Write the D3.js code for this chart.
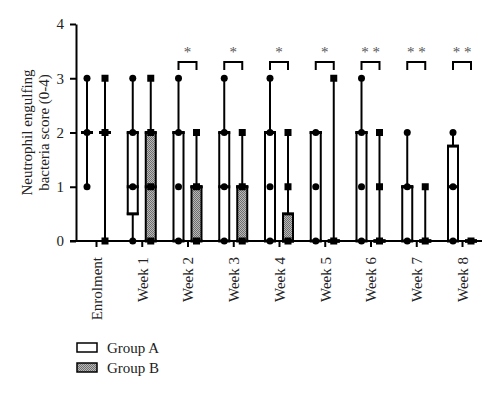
<!DOCTYPE html>
<html>
<head>
<meta charset="utf-8">
<script src="https://cdn.jsdelivr.net/npm/d3@7"></script>
<style>
  body { margin: 0; background: #fff; }
  svg { font-family: "Liberation Serif", "DejaVu Serif", serif; }
</style>
</head>
<body>
<div class="chart"></div>
<script>
// categories
const weeks = ['Enrolment', 'Week 1', 'Week 2', 'Week 3', 'Week 4', 'Week 5', 'Week 6', 'Week 7', 'Week 8'];
// box stats per week: [min, q1, median, q3, max]
const groupA = [[1, 2, 2, 2, 3], [0, 0.5, 1, 2, 3], [0, 0, 2, 2, 3], [0, 0, 1, 2, 3], [0, 0, 2, 2, 3],
                [0, 0, 2, 2, 2], [0, 0, 2, 2, 3], [0, 0, 1, 1, 2], [0, 0, 1, 1.75, 2]];
const groupB = [[0, 2, 2, 2, 3], [0, 0, 1, 2, 3], [0, 0, 1, 1, 2], [0, 0, 1, 1, 2], [0, 0, 0, 0.5, 2],
                [0, 0, 0, 0, 3], [0, 0, 0, 0, 2], [0, 0, 0, 0, 1], [0, 0, 0, 0, 0]];
// distinct score values shown as points
const pointsA = [[1, 2, 3], [0, 1, 2, 3], [0, 1, 2, 3], [0, 1, 2, 3], [0, 1, 2, 3],
                 [0, 1, 2], [0, 1, 2, 3], [0, 1, 2], [0, 1, 2]];
const pointsB = [[0, 2, 3], [0, 1, 2, 3], [0, 1, 2], [0, 1, 2], [0, 1, 2],
                 [0, 3], [0, 1, 2], [0, 1], [0]];
// significance marks (null = none)
const stars = [null, null, '*', '*', '*', '*', '* *', '* *', '* *'];
const yTicks = [0, 1, 2, 3, 4];

const W = 500, H = 393;
const svg = d3.select('.chart').append('svg')
  .attr('width', W).attr('height', H);

const defs = svg.append('defs');
const pat = defs.append('pattern')
  .attr('id', 'dots').attr('patternUnits', 'userSpaceOnUse')
  .attr('width', 2).attr('height', 2);
pat.append('rect').attr('width', 2).attr('height', 2).attr('fill', '#b8b8b8');
pat.append('rect').attr('width', 1).attr('height', 1).attr('fill', '#6e6e6e');
pat.append('rect').attr('x', 1).attr('y', 1).attr('width', 1).attr('height', 1).attr('fill', '#6e6e6e');

const xScale = d3.scalePoint().domain(weeks).range([96, 462]);
const yScale = d3.scaleLinear().domain([0, 4]).range([241, 24]);
const off = 9, bw = 10;

// y axis
const yAxis = d3.axisLeft(yScale).tickValues(yTicks).tickFormat(d3.format('d'))
  .tickSize(6).tickSizeOuter(0).tickPadding(6);
const gy = svg.append('g').attr('transform', 'translate(76,0)').call(yAxis);
gy.select('.domain').attr('stroke-width', 2);
gy.selectAll('.tick line').attr('stroke-width', 2);
gy.selectAll('.tick text').attr('font-size', 15).attr('fill', '#222')
  .attr('font-family', '"Liberation Serif", serif');

// x axis
const gx = svg.append('g').attr('transform', `translate(0,${yScale(0)})`)
  .call(d3.axisBottom(xScale).tickSize(6).tickSizeOuter(0).tickPadding(8));
gx.select('.domain').remove();
gx.append('line').attr('x1', 70).attr('x2', 482).attr('stroke', '#000').attr('stroke-width', 2);
gx.selectAll('.tick line').attr('stroke-width', 2);
gx.selectAll('.tick text')
  .attr('font-size', 15).attr('fill', '#222')
  .attr('font-family', '"Liberation Serif", serif')
  .attr('transform', 'rotate(-90)')
  .attr('text-anchor', 'end')
  .attr('x', -16).attr('y', 0).attr('dy', '0.35em');

// y label
svg.append('text')
  .attr('transform', `translate(27,${yScale(2)}) rotate(-90)`)
  .attr('text-anchor', 'middle').attr('dy', '0.35em')
  .attr('font-size', 15).attr('fill', '#222')
  .text('Neutrophil engulfing');
svg.append('text')
  .attr('transform', `translate(44,${yScale(2)}) rotate(-90)`)
  .attr('text-anchor', 'middle').attr('dy', '0.35em')
  .attr('font-size', 15).attr('fill', '#222')
  .text('bacteria score (0-4)');

function drawBox(stats, pts, cx, fill, square) {
  const [mn, q1, md, q3, mx] = stats;
  const g = svg.append('g');
  // whiskers
  g.append('line').attr('x1', cx).attr('x2', cx)
    .attr('y1', yScale(mn)).attr('y2', yScale(mx))
    .attr('stroke', '#000').attr('stroke-width', 2);
  if (q3 > q1) {
    g.append('rect')
      .attr('x', cx - bw / 2).attr('width', bw)
      .attr('y', yScale(q3)).attr('height', yScale(q1) - yScale(q3))
      .attr('fill', fill).attr('stroke', '#000').attr('stroke-width', 2);
  }
  // median / collapsed quartiles
  [q1, md, q3].forEach(v => {
    g.append('line').attr('x1', cx - bw / 2 - 1).attr('x2', cx + bw / 2 + 1)
      .attr('y1', yScale(v)).attr('y2', yScale(v))
      .attr('stroke', '#000').attr('stroke-width', 3);
  });
  // points
  pts.forEach(v => {
    if (square) {
      g.append('rect').attr('x', cx - 3.5).attr('y', yScale(v) - 3.5)
        .attr('width', 7).attr('height', 7).attr('fill', '#000');
    } else {
      g.append('circle').attr('cx', cx).attr('cy', yScale(v)).attr('r', 3.5).attr('fill', '#000');
    }
  });
}

weeks.forEach((w, i) => {
  drawBox(groupA[i], pointsA[i], xScale(w) - off, '#fff', false);
  drawBox(groupB[i], pointsB[i], xScale(w) + off, 'url(#dots)', true);
  if (stars[i]) {
    const x0 = xScale(w) - off, x1 = xScale(w) + off;
    svg.append('path')
      .attr('d', `M${x0},70V62H${x1}V70`)
      .attr('fill', 'none').attr('stroke', '#000').attr('stroke-width', 2);
    svg.append('text').attr('x', xScale(w)).attr('y', 57)
      .attr('text-anchor', 'middle').attr('font-size', 15).attr('fill', '#555')
      .text(stars[i]);
  }
});

// legend
const legend = [['Group A', '#fff'], ['Group B', 'url(#dots)']];
legend.forEach((d, i) => {
  svg.append('rect').attr('x', 77).attr('y', 343 + i * 20)
    .attr('width', 20).attr('height', 9)
    .attr('fill', d[1]).attr('stroke', '#000').attr('stroke-width', 1.5);
  svg.append('text').attr('x', 107).attr('y', 348 + i * 20).attr('dy', '0.35em')
    .attr('font-size', 15).attr('fill', '#222').text(d[0]);
});
</script>
</body>
</html>
